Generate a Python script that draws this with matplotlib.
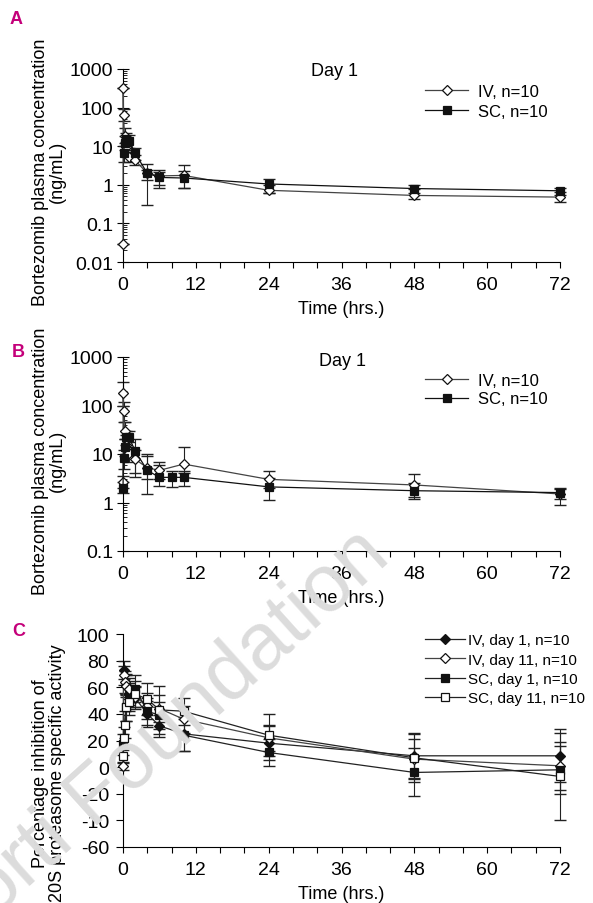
import numpy as np
from matplotlib import pyplot as plt
from matplotlib.ticker import FixedLocator, MultipleLocator, LogLocator, NullFormatter

plt.rcParams['font.family'] = ['Liberation Sans', 'DejaVu Sans']

# Panel A - day 1 plasma concentration (ng/mL)
iv_a_t = [0, 0.033, 0.083, 0.25, 0.5, 1, 2, 4, 6, 10, 24, 48, 72]
iv_a = [0.03, 320, 65, 18, 9.5, 5.2, 4.3, 2.0, 1.7, 1.75, 0.72, 0.53, 0.48]
iv_a_lo = [0.03, 320, 45, 12, 7, 4, 3.2, 0.3, 0.85, 0.85, 0.6, 0.42, 0.35]
iv_a_hi = [0.03, 320, 90, 30, 13, 7, 6, 3.5, 2.4, 3.2, 1.0, 0.8, 0.65]
sc_a_t = [0.083, 0.25, 0.5, 1, 2, 4, 6, 10, 24, 48, 72]
sc_a = [6.5, 12, 15, 14, 6.5, 2.0, 1.55, 1.5, 1.05, 0.8, 0.7]
sc_a_lo = [4, 8, 10, 9, 4.5, 1.3, 1.0, 0.85, 0.6, 0.6, 0.55]
sc_a_hi = [10, 18, 22, 20, 9, 2.4, 2.2, 2.3, 1.4, 1.0, 0.85]

# Panel B
iv_b_t = [0, 0.033, 0.083, 0.25, 0.5, 1, 2, 4, 6, 10, 24, 48, 72]
iv_b = [2.6, 185, 78, 30, 15, 10.5, 7.8, 5.2, 4.6, 6.2, 3.0, 2.3, 1.5]
iv_b_lo = [2.0, 100, 45, 20, 10, 7, 4, 3, 3, 4, 2, 1.3, 1.2]
iv_b_hi = [3.5, 300, 120, 45, 25, 18, 12, 10, 7, 14, 4.4, 3.8, 1.9]
sc_b_t = [0, 0.083, 0.25, 0.5, 1, 2, 4, 6, 8, 10, 24, 48, 72]
sc_b = [2.0, 8.2, 14, 22, 22, 11.5, 4.6, 3.3, 3.3, 3.3, 2.1, 1.75, 1.6]
sc_b_lo = [1.6, 5, 9, 15, 14, 3.3, 1.5, 2.2, 2.1, 2.2, 1.1, 1.2, 0.9]
sc_b_hi = [2.6, 12, 20, 30, 30, 20, 9, 6, 4.5, 4.5, 3.2, 2.5, 2.0]

# Panel C - % inhibition of 20S proteasome activity
ivd1_t = [0.083, 0.5, 1, 2, 4, 6, 10, 24, 48, 72]
ivd1 = [73, 62, 55, 52, 40, 31, 25, 18, 8.5, 8.5]
ivd1_err = [7, 8, 8, 8, 10, 8, 13, 13, 17, 20]
ivd11_t = [0, 0.083, 0.25, 0.5, 1, 2, 4, 6, 10, 24, 48, 72]
ivd11 = [1, 69, 64, 61, 59, 53, 46, 44, 36, 22, 6, 1]
ivd11_err = [3, 7, 8, 8, 8, 8, 10, 10, 10, 10, 15, 18]
scd1_t = [0, 0.5, 1, 2, 4, 6, 10, 24, 48, 72]
scd1 = [17, 45, 52, 59, 42, 39, 24, 11, -4, -2]
scd1_err = [8, 10, 10, 10, 10, 10, 12, 10, 18, 18]
scd11_t = [0, 0.083, 0.25, 0.5, 1, 2, 4, 6, 10, 24, 48, 72]
scd11 = [8, 22, 32, 45, 49, 55, 51, 43, 42, 24, 7, -7]
scd11_err = [5, 8, 10, 10, 10, 10, 12, 18, 10, 16, 18, 33]

c_ticks = [100, 80, 60, 40, 20, 0, -20, -40, -60]
c_labels = ['100', '80', '60', '40', '20', '0', '-20', '-10', '-60']

W, H = 593, 904
fig = plt.figure(figsize=(W / 100, H / 100), dpi=100)
magenta = '#c4007a'
TICK_FS = 14
LAB_FS = 13


def px_axes(left, top, right, bottom):
    return fig.add_axes([left / W, 1 - bottom / H, (right - left) / W, (bottom - top) / H])


def style_x(ax):
    ax.set_xlim(0, 72)
    ax.xaxis.set_major_locator(MultipleLocator(12))
    ax.xaxis.set_minor_locator(MultipleLocator(4))
    ax.tick_params(axis='x', which='both', direction='out', length=4, width=0.8, labelsize=TICK_FS, pad=6)
    ax.spines['top'].set_visible(False)
    ax.spines['right'].set_visible(False)
    ax.set_xlabel('Time (hrs.)', fontsize=LAB_FS, labelpad=5)


def err(v, lo, hi):
    v, lo, hi = np.array(v), np.array(lo), np.array(hi)
    return [v - lo, hi - v]


def series(ax, t, v, e, marker, fc, lc, label):
    ax.errorbar(t, v, yerr=e, fmt='none', ecolor='#222222', elinewidth=0.8, capsize=4, clip_on=False)
    ax.plot(t, v, color=lc, lw=0.9, marker=marker, ms=5.5, mfc=fc, mec='#111111', mew=0.9,
            clip_on=False, label=label, zorder=4)


def pk_panel(ax, iv_t, iv, iv_lo, iv_hi, sc_t, sc, sc_lo, sc_hi, ylo):
    ax.set_yscale('log')
    series(ax, iv_t, iv, err(iv, iv_lo, iv_hi), 'D', 'white', '#444444', 'IV, n=10')
    series(ax, sc_t, sc, err(sc, sc_lo, sc_hi), 's', '#111111', '#111111', 'SC, n=10')
    ax.set_ylim(ylo, 1000)
    ax.yaxis.set_major_locator(LogLocator(base=10, numticks=10))
    ax.yaxis.set_minor_locator(LogLocator(base=10, subs=np.arange(2, 10), numticks=20))
    ax.yaxis.set_minor_formatter(NullFormatter())
    ax.yaxis.set_major_formatter(plt.FuncFormatter(lambda v, p: '%g' % v))
    ax.tick_params(axis='y', which='major', direction='inout', length=8, width=0.8, labelsize=TICK_FS, pad=3)
    ax.tick_params(axis='y', which='minor', direction='in', length=3, width=0.6)
    style_x(ax)
    ax.set_ylabel('Bortezomib plasma concentration\n(ng/mL)', fontsize=LAB_FS, linespacing=1.05)


def legend(ax, top_px, spacing, fs, pad):
    ax.legend(loc='upper left', bbox_to_anchor=(425 / W, 1 - top_px / H), bbox_transform=fig.transFigure,
              frameon=False, fontsize=fs, handlelength=2.6, handletextpad=pad, labelspacing=spacing,
              borderpad=0, borderaxespad=0)


# A
axA = px_axes(123, 70, 560, 263)
pk_panel(axA, iv_a_t, iv_a, iv_a_lo, iv_a_hi, sc_a_t, sc_a, sc_a_lo, sc_a_hi, 0.01)
axA.yaxis.set_label_coords(-0.13, 0.47)
axA.text(0.485, 0.99, 'Day 1', transform=axA.transAxes, ha='center', va='center', fontsize=LAB_FS)
legend(axA, 85, 0.3, 12, 0.6)
fig.text(10 / W, 1 - 20 / H, 'A', color=magenta, fontsize=13, fontweight='bold', va='center')

# B
axB = px_axes(123, 358, 560, 552)
pk_panel(axB, iv_b_t, iv_b, iv_b_lo, iv_b_hi, sc_b_t, sc_b, sc_b_lo, sc_b_hi, 0.1)
axB.yaxis.set_label_coords(-0.13, 0.47)
axB.text(0.503, 0.98, 'Day 1', transform=axB.transAxes, ha='center', va='center', fontsize=LAB_FS)
legend(axB, 374, 0.2, 12, 0.6)
fig.text(12 / W, 1 - 353 / H, 'B', color=magenta, fontsize=13, fontweight='bold', va='center')

# C
axC = px_axes(123, 635, 560, 848)
series(axC, ivd1_t, ivd1, ivd1_err, 'D', '#111111', '#222222', 'IV, day 1, n=10')
series(axC, ivd11_t, ivd11, ivd11_err, 'D', 'white', '#444444', 'IV, day 11, n=10')
series(axC, scd1_t, scd1, scd1_err, 's', '#111111', '#222222', 'SC, day 1, n=10')
series(axC, scd11_t, scd11, scd11_err, 's', 'white', '#222222', 'SC, day 11, n=10')
axC.set_ylim(-60, 100)
axC.yaxis.set_major_locator(FixedLocator(c_ticks))
axC.set_yticklabels(c_labels)
axC.tick_params(axis='y', direction='out', length=5, width=0.8, labelsize=TICK_FS, pad=5)
style_x(axC)
axC.set_ylabel('Percentage inhibition of\n20S proteasome specific activity', fontsize=LAB_FS, linespacing=1.05)
axC.yaxis.set_label_coords(-0.13, 0.35)
legend(axC, 634, 0.36, 11, 0.2)
fig.text(12 / W, 1 - 632 / H, 'C', color=magenta, fontsize=13, fontweight='bold', va='center')

# watermark
fig.text(392 / W, 1 - 560 / H, 'Storti Foundation', color='#dcdcdc', fontsize=58, rotation=42,
         rotation_mode='anchor', ha='right', va='baseline', zorder=0)

fig.savefig('out.png', dpi=100)
